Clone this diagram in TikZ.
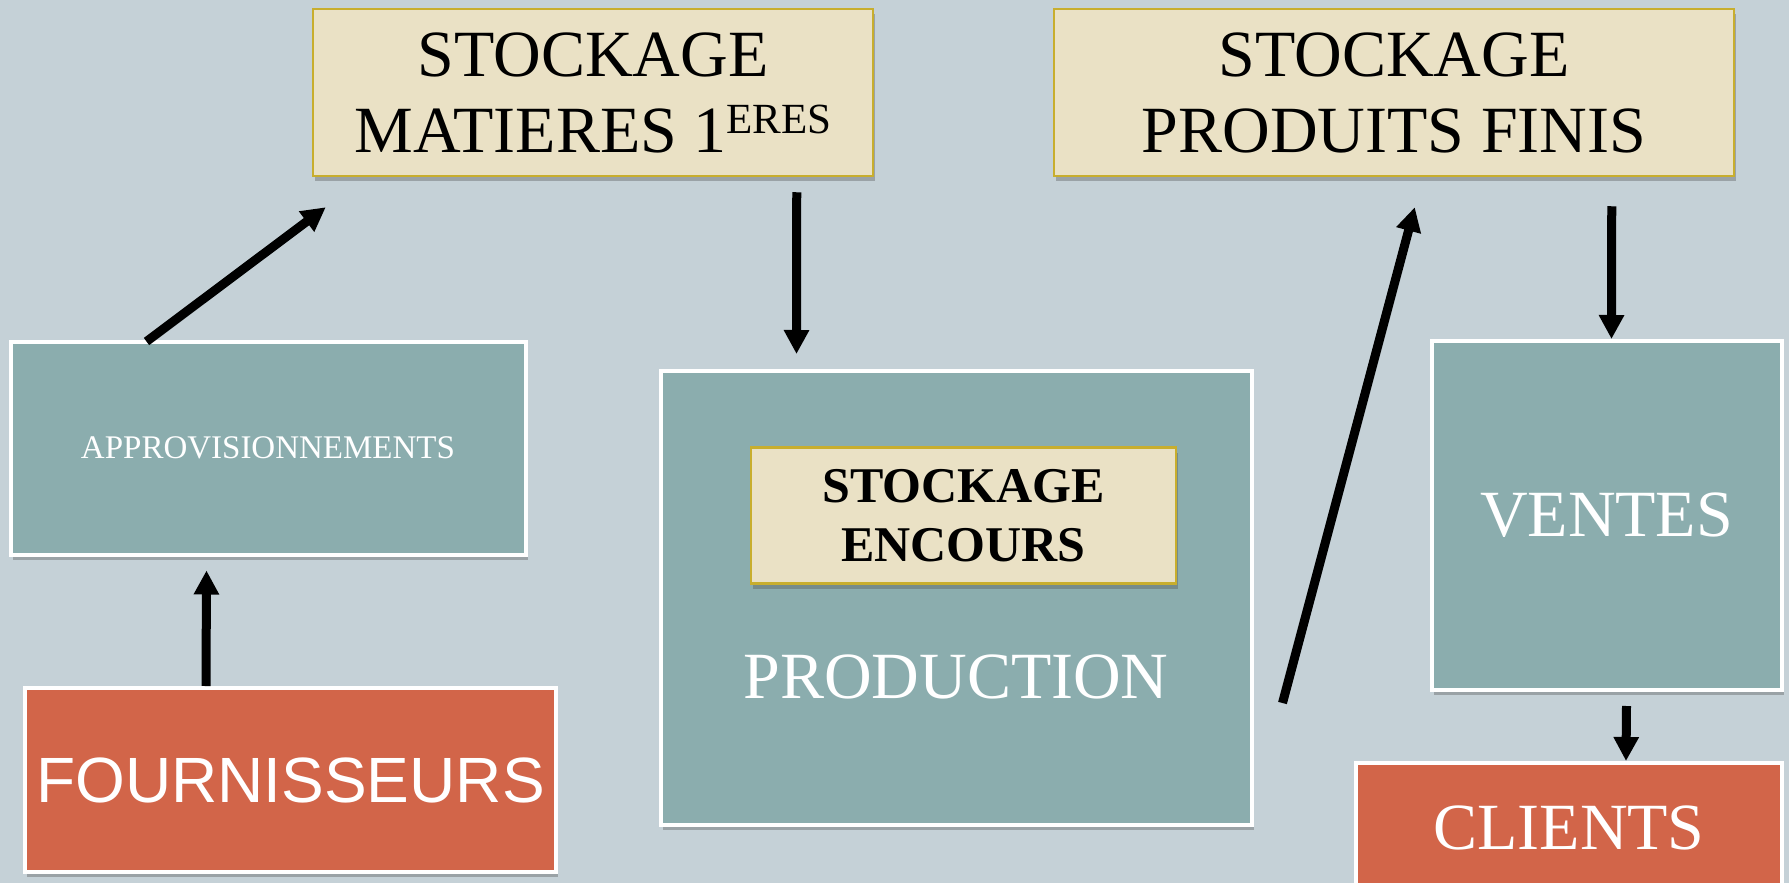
\documentclass[tikz,border=0pt]{standalone}
\usepackage{fontspec}
\setmainfont{Liberation Serif}
\newfontfamily\sansf{Liberation Sans}
\usetikzlibrary{arrows.meta,calc,shadows}
\definecolor{bgc}{HTML}{C5D1D7}
\definecolor{tealc}{HTML}{8BADAE}
\definecolor{beigec}{HTML}{EAE1C5}
\definecolor{goldc}{HTML}{C8AE2E}
\definecolor{redc}{HTML}{D26549}
\tikzset{
  shad/.style={drop shadow={shadow xshift=2pt,shadow yshift=-5pt,opacity=0.35,fill=black!70}},
  tealbox/.style={shad,rectangle,fill=tealc,draw=white,line width=4pt,inner sep=0pt,text=white,align=center},
  redbox/.style={shad,rectangle,fill=redc,draw=white,line width=4pt,inner sep=0pt,text=white,align=center},
  stockbox/.style={shad,rectangle,fill=beigec,draw=goldc,line width=2.5pt,inner sep=0pt,text=black,align=center},
  bigserif/.style={font=\fontsize{66}{76}\selectfont},
  arr/.style={draw=black,line width=9pt,-{Triangle[width=24pt,length=24pt]}}
}
\begin{document}
\begin{tikzpicture}[x=1pt,y=-1pt]
\useasboundingbox (0,0) rectangle (1789,883);
\clip (0,0) rectangle (1789,883);
\fill[bgc] (0,0) rectangle (1789,883);

\node[stockbox,bigserif,minimum width=560pt,minimum height=167pt] (mat) at (593,92.5)
  {STOCKAGE\\MATIERES 1\raisebox{19pt}{\fontsize{43}{43}\selectfont ERES}};
\node[stockbox,bigserif,minimum width=680pt,minimum height=167pt] (pf) at (1394,92.5)
  {STOCKAGE\\PRODUITS FINIS};
\node[tealbox,font=\fontsize{33}{40}\selectfont,minimum width=515pt,minimum height=213pt] (appro) at (268,448)
  {APPROVISIONNEMENTS};
\node[tealbox,minimum width=591pt,minimum height=454pt] (prod) at (956,598) {};
\node[text=white,bigserif,inner sep=0pt] (prodlabel) at (956,677) {PRODUCTION};
\node[stockbox,font=\bfseries\fontsize{50}{59}\selectfont,minimum width=425pt,minimum height=136pt] (enc) at (963.5,515.5)
  {STOCKAGE\\ENCOURS};
\node[tealbox,bigserif,minimum width=350pt,minimum height=349pt] (ventes) at (1606.5,515.5)
  {VENTES};
\node[redbox,font=\sansf\fontsize{64}{72}\selectfont,minimum width=531pt,minimum height=184pt] (four) at (290.5,780)
  {FOURNISSEURS};
\node[redbox,bigserif,minimum width=426pt,minimum height=130pt] (cli) at (1569,828)
  {CLIENTS};

\draw[arr] ($(four.north west)+(183,0)$) -- ($(appro.south west)+(198,14)$);
\draw[arr] ($(appro.north west)+(138,2)$) -- ($(mat.south west)+(14,30)$);
\draw[arr] ($(mat.south west)+(485,15)$) -- ($(prod.north west)+(138,-15)$);
\draw[arr] ($(prod.east)+(29,105)$) -- ($(pf.south west)+(362,30)$);
\draw[arr] ($(pf.south west)+(559,29)$) -- ($(ventes.north west)+(182,0)$);
\draw[arr] ($(ventes.south west)+(197,14)$) -- ($(cli.north west)+(272,0)$);
\end{tikzpicture}
\end{document}
